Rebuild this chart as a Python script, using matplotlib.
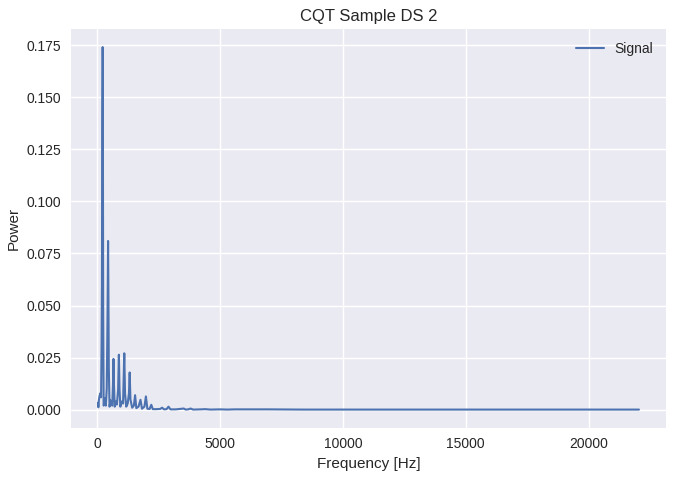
import matplotlib
matplotlib.use("Agg")
import matplotlib.pyplot as plt

# Frequencies (Hz) and power values
freq_hz = [32, 45, 65, 90, 130, 155, 175, 190, 205, 215, 220, 226, 240, 260, 290, 320, 350,
           385, 410, 428, 440, 452, 470, 500, 540, 575, 610, 640, 660, 680, 710, 760, 800,
           850, 880, 905, 940, 1000, 1050, 1100, 1130, 1180, 1240, 1290, 1320, 1350, 1420,
           1490, 1540, 1590, 1680, 1760, 1820, 1920, 1980, 2040, 2130, 2200, 2260, 2400,
           2560, 2640, 2720, 2820, 2900, 2980, 3200, 3520, 3600, 3700, 3800, 3900, 4200,
           4400, 4600, 5000, 5300, 5600, 7000, 8300, 9000, 12000, 15000, 18000, 22050]
power = [0.0034, 0.0012, 0.0045, 0.0065, 0.0080, 0.0060, 0.030, 0.060, 0.138, 0.165, 0.174,
         0.165, 0.050, 0.002, 0.0030, 0.0055, 0.0020,
         0.010, 0.035, 0.060, 0.081, 0.060, 0.020, 0.0015, 0.0045, 0.0030, 0.0020, 0.012, 0.0244,
         0.012, 0.0015, 0.0040, 0.0025,
         0.010, 0.0264, 0.010, 0.0015, 0.0040, 0.0030, 0.0271, 0.008, 0.0015, 0.0030, 0.008,
         0.0179, 0.005, 0.0010,
         0.0020, 0.0070, 0.0008, 0.0015, 0.0048, 0.0005, 0.0015, 0.0064, 0.0005, 0.0004,
         0.0024, 0.0003, 0.0003,
         0.0004, 0.0010, 0.0002, 0.0003, 0.0015, 0.0002, 0.0002, 0.0006, 0.0001, 0.0002,
         0.0006, 0.0001, 0.0002,
         0.0003, 0.0001, 0.0002, 0.0001, 0.0002, 0.0002, 0.0001, 0.0001, 0.0001, 0.0001,
         0.0001, 0.0001]

title = "CQT Sample DS 2"
xlabel = "Frequency [Hz]"
ylabel = "Power"
series_label = "Signal"

plt.style.use("seaborn-v0_8")
plt.rcParams["font.family"] = ["Liberation Sans", "DejaVu Sans"]

fig = plt.figure(figsize=(6.76, 4.78), dpi=100)
ax = fig.add_axes([71 / 676, 1 - 427.7 / 478, (666 - 71) / 676, (427.7 - 29) / 478])
ax.plot(freq_hz, power, color="#4c72b0", linewidth=1.5, label=series_label)
ax.set_title(title)
ax.set_xlabel(xlabel)
ax.set_ylabel(ylabel)
ax.legend(loc="upper right")
fig.savefig("out.png", dpi=100)
